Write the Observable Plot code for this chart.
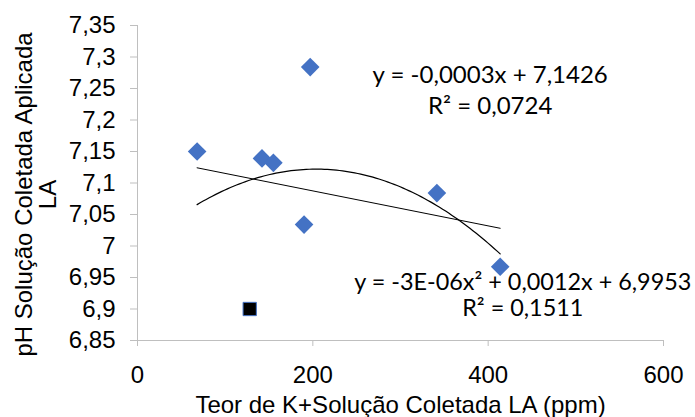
<!DOCTYPE html>
<html>
<head>
<meta charset="utf-8">
<script src="https://cdn.jsdelivr.net/npm/d3@7"></script>
<script src="https://cdn.jsdelivr.net/npm/@observablehq/plot@0.6"></script>
<style>
  html, body { margin: 0; padding: 0; background: #ffffff; }
  #chart { width: 695px; height: 417px; }
</style>
</head>
<body>
<div id="chart"></div>
<script>
// ---- Data ----
const teorK = [68, 142, 155, 197, 190, 341.5, 413.7];          // blue diamonds (ppm)
const phLA  = [7.150, 7.139, 7.132, 7.284, 7.034, 7.084, 6.967];
const markedTeorK = [128];                                       // highlighted point (black square)
const markedPhLA  = [6.900];

const xTicks = [0, 200, 400, 600];
const yTicks = [6.85, 6.9, 6.95, 7, 7.05, 7.1, 7.15, 7.2, 7.25, 7.3, 7.35];

const xLabel = "Teor de K+Solução Coletada LA (ppm)";
const yLabel = ["pH Solução Coletada Aplicada", "LA"];
const eqLinear = ["y = -0,0003x + 7,1426", "R² = 0,0724"];
const eqPoly   = ["y = -3E-06x² + 0,0012x + 6,9953", "R² = 0,1511"];

// ---- Build tables ----
const points = teorK.map((x, i) => ({x, y: phLA[i]}));
const marked = markedTeorK.map((x, i) => ({x, y: markedPhLA[i]}));
const all = points.concat(marked);

// Least-squares quadratic fit on all points (Excel trendline)
function polyFit2(data) {
  const mx = d3.mean(data, d => d.x);
  const s = [0,0,0,0,0], t = [0,0,0];
  for (const d of data) {
    const u = d.x - mx;
    for (let k = 0; k < 5; k++) s[k] += Math.pow(u, k);
    for (let k = 0; k < 3; k++) t[k] += d.y * Math.pow(u, k);
  }
  const A = [[s[0], s[1], s[2], t[0]], [s[1], s[2], s[3], t[1]], [s[2], s[3], s[4], t[2]]];
  for (let i = 0; i < 3; i++) {
    for (let j = i + 1; j < 3; j++) {
      const f = A[j][i] / A[i][i];
      for (let k = i; k < 4; k++) A[j][k] -= f * A[i][k];
    }
  }
  const c = [0,0,0];
  for (let i = 2; i >= 0; i--) {
    let v = A[i][3];
    for (let k = i + 1; k < 3; k++) v -= A[i][k] * c[k];
    c[i] = v / A[i][i];
  }
  return x => { const u = x - mx; return c[0] + c[1]*u + c[2]*u*u; };
}
const quad = polyFit2(all);
const [xmin, xmax] = d3.extent(all, d => d.x);
const curve = d3.range(0, 101).map(i => {
  const x = xmin + (xmax - xmin) * i / 100;
  return {x, y: quad(x)};
});

const fmt = d => String(d).replace(".", ",");
const axisGray = "#bfbfbf";
const blue = "#4472C4";
const eqFont = "Lato, 'Open Sans', sans-serif";

const chart = Plot.plot({
  width: 695,
  height: 417,
  marginLeft: 137,
  marginRight: 32,
  marginTop: 25,
  marginBottom: 77,
  style: {
    fontFamily: "'Liberation Sans', Arial, sans-serif",
    fontSize: "24px",
    color: "#000",
    background: "#fff",
    overflow: "visible"
  },
  x: {domain: [0, 600], label: null},
  y: {domain: [6.85, 7.35], label: null},
  marks: [
    Plot.ruleY([6.85], {stroke: axisGray, strokeWidth: 1}),
    Plot.ruleX([0], {stroke: axisGray, strokeWidth: 1}),
    Plot.axisX({ticks: xTicks, tickFormat: fmt, tickSize: 6, tickPadding: 19,
                stroke: axisGray, fill: "#000", fontSize: 24, label: null}),
    Plot.axisY({ticks: yTicks, tickFormat: fmt, tickSize: 7, tickPadding: 15,
                stroke: axisGray, fill: "#000", fontSize: 24, label: null}),
    Plot.text([yLabel.join("\n")], {frameAnchor: "left", rotate: -90, textAnchor: "middle", lineAnchor: "middle",
                lineHeight: 1, dx: -101, dy: 11.5, fontSize: 24, fill: "#000"}),
    Plot.text([xLabel], {frameAnchor: "bottom", textAnchor: "middle", lineAnchor: "bottom", dy: 72,
                fontSize: 24, fill: "#000"}),
    Plot.dot(points, {x: "x", y: "y", symbol: "diamond2", r: 8.4, fill: blue, stroke: "none"}),
    Plot.dot(marked, {x: "x", y: "y", symbol: "square", r: 7.5, fill: "#000", stroke: blue, strokeWidth: 1}),
    Plot.linearRegressionY(all, {x: "x", y: "y", stroke: "#000", strokeWidth: 1, ci: 0}),
    Plot.line(curve, {x: "x", y: "y", stroke: "#000", strokeWidth: 1.2, curve: "linear"}),
    Plot.text([eqLinear.join("\n")], {x: 402.3, y: 7.2099, textAnchor: "middle", lineAnchor: "bottom",
                lineHeight: 1.29, fontFamily: eqFont, fontSize: 24, fill: "#000"}),
    Plot.text([eqPoly.join("\n")], {x: 439.5, y: 6.8883, textAnchor: "middle", lineAnchor: "bottom",
                lineHeight: 1.14, fontFamily: eqFont, fontSize: 23.4, fill: "#000"})
  ]
});
document.getElementById("chart").appendChild(chart);
</script>
</body>
</html>
